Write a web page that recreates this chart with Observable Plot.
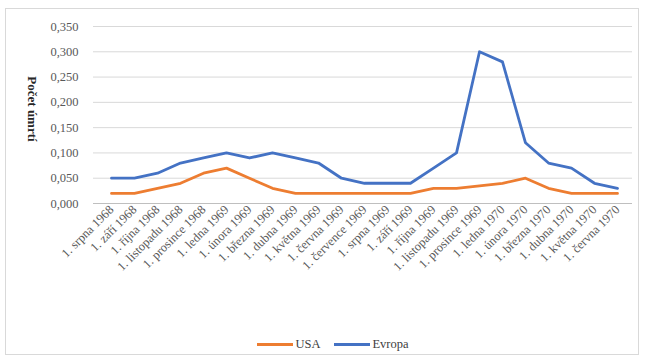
<!DOCTYPE html>
<html>
<head>
<meta charset="utf-8">
<script src="https://cdn.jsdelivr.net/npm/d3@7"></script>
<script src="https://cdn.jsdelivr.net/npm/@observablehq/plot@0.6"></script>
<style>
  html, body { margin: 0; padding: 0; background: #fff; }
  #wrap { position: relative; width: 646px; height: 362px; overflow: hidden; font-family: "Liberation Serif", "Times New Roman", serif; }
  #frame { position: absolute; left: 5px; top: 8px; width: 634px; height: 347px; border: 1px solid #d9d9d9; box-sizing: border-box; }
  #chart { position: absolute; left: 0; top: 0; }
  #legend { position: absolute; left: 10px; top: 335px; width: 646px; text-align: center; font-size: 12.5px; color: #404040; }
  #legend span.item { display: inline-flex; align-items: center; margin: 0 7px; }
  #legend span.sw { display: inline-block; width: 36px; height: 3px; margin-right: 2px; }
  #ylab { position: absolute; left: 32px; top: 109px; transform: translate(-50%, -50%) rotate(90deg); font-size: 13px; font-weight: bold; color: #262626; white-space: nowrap; }
</style>
</head>
<body>
<div id="wrap">
  <div id="frame"></div>
  <div id="chart"></div>
  <div id="ylab">Počet úmrtí</div>
  <div id="legend"></div>
</div>
<script>
const categories = [
  "1. srpna 1968", "1. září 1968", "1. října 1968", "1. listopadu 1968", "1. prosince 1968",
  "1. ledna 1969", "1. února 1969", "1. března 1969", "1. dubna 1969", "1. května 1969",
  "1. června 1969", "1. července 1969", "1. srpna 1969", "1. září 1969", "1. října 1969",
  "1. listopadu 1969", "1. prosince 1969", "1. ledna 1970", "1. února 1970", "1. března 1970",
  "1. dubna 1970", "1. května 1970", "1. června 1970"
];
const usa = [0.02, 0.02, 0.03, 0.04, 0.06, 0.07, 0.05, 0.03, 0.02, 0.02, 0.02, 0.02, 0.02, 0.02, 0.03, 0.03, 0.035, 0.04, 0.05, 0.03, 0.02, 0.02, 0.02];
const evropa = [0.05, 0.05, 0.06, 0.08, 0.09, 0.10, 0.09, 0.10, 0.09, 0.08, 0.05, 0.04, 0.04, 0.04, 0.07, 0.10, 0.30, 0.28, 0.12, 0.08, 0.07, 0.04, 0.03];
const seriesNames = ["USA", "Evropa"];
const seriesColors = ["#ED7D31", "#4472C4"];
const yTicks = [0, 0.05, 0.10, 0.15, 0.20, 0.25, 0.30, 0.35];

const rows = [];
categories.forEach((c, i) => {
  rows.push({cat: c, value: usa[i], series: seriesNames[0]});
  rows.push({cat: c, value: evropa[i], series: seriesNames[1]});
});

const fmt = v => d3.format(".3f")(v).replace(".", ",");

const chart = Plot.plot({
  width: 646,
  height: 330,
  marginLeft: 96,
  marginRight: 14,
  marginTop: 26,
  marginBottom: 127,
  style: { fontFamily: "'Liberation Serif', 'Times New Roman', serif", background: "transparent" },
  x: { type: "point", domain: categories, padding: 0.5 },
  y: { domain: [0, 0.35] },
  color: { domain: seriesNames, range: seriesColors },
  marks: [
    Plot.ruleY(yTicks.filter(d => d > 0), { stroke: "#d9d9d9", strokeWidth: 1, insetLeft: -3 }),
    Plot.ruleY([0], { stroke: "#bfbfbf", strokeWidth: 1, insetLeft: -3 }),
    Plot.axisY({ ticks: yTicks, tickFormat: fmt, tickSize: 0, tickPadding: 18, fontSize: 12.5, color: "#595959", label: null }),
    Plot.axisX({ tickSize: 0, tickRotate: -45, tickPadding: 4, fontSize: 12.5, color: "#595959", label: null }),
    Plot.line(rows, { x: "cat", y: "value", z: "series", stroke: "series", strokeWidth: 2.8, curve: "linear" })
  ]
});
document.getElementById("chart").appendChild(chart);

const legend = document.getElementById("legend");
seriesNames.forEach((n, i) => {
  const item = document.createElement("span");
  item.className = "item";
  const sw = document.createElement("span");
  sw.className = "sw";
  sw.style.background = seriesColors[i];
  item.appendChild(sw);
  item.appendChild(document.createTextNode(n));
  legend.appendChild(item);
});
</script>
</body>
</html>
